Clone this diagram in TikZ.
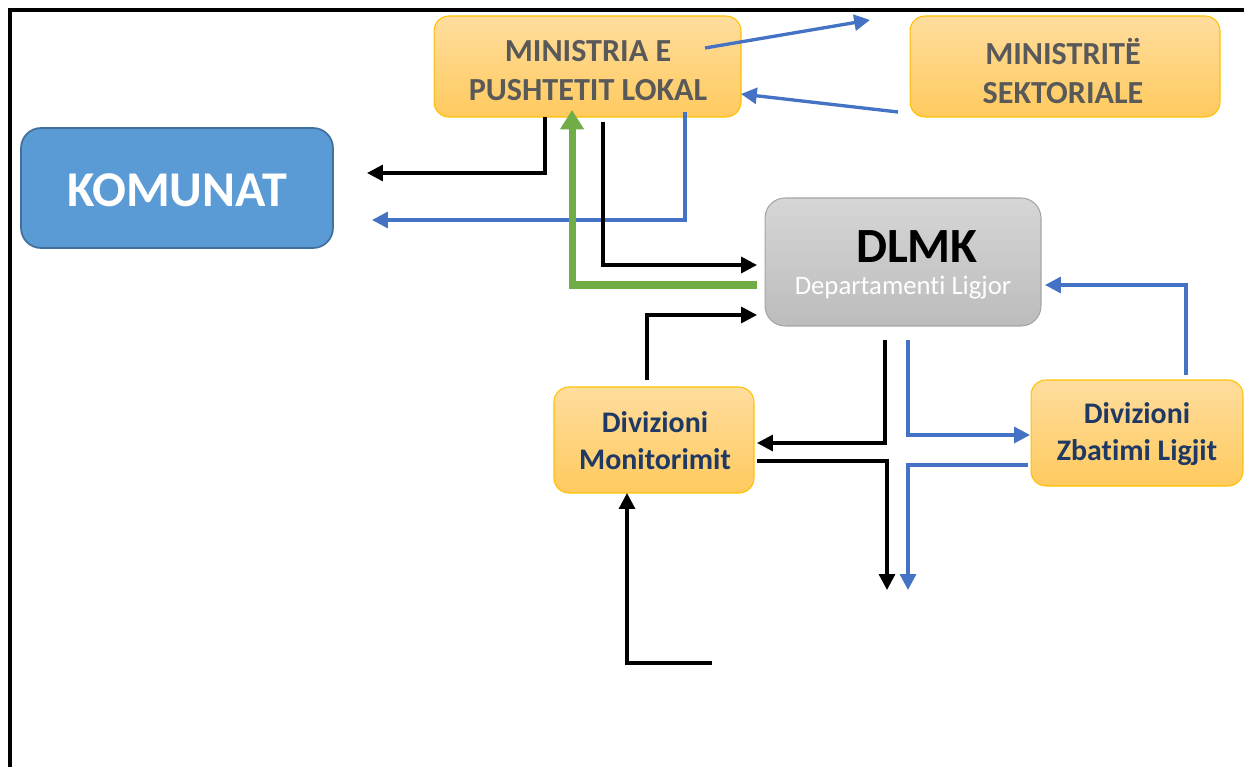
\documentclass[tikz,border=0pt]{standalone}
\usepackage{fontspec}
\setmainfont{Carlito}[Ligatures=NoCommon]
\usetikzlibrary{arrows.meta,calc}
\definecolor{kblue}{HTML}{5B9BD5}
\definecolor{kblueb}{HTML}{41719C}
\definecolor{lblue}{HTML}{4472C4}
\definecolor{lgreen}{HTML}{70AD47}
\definecolor{otop}{HTML}{FFDD9E}
\definecolor{obot}{HTML}{FFCA5E}
\definecolor{oborder}{HTML}{FFC000}
\definecolor{gtop}{HTML}{D6D6D6}
\definecolor{gbot}{HTML}{BCBCBC}
\definecolor{gborder}{HTML}{A5A5A5}
\definecolor{dgray}{HTML}{595959}
\definecolor{navy}{HTML}{1F3864}
\begin{document}
\begin{tikzpicture}[x=0.02cm,y=-0.02cm,
  orbox/.style={rounded corners=0.3cm, draw=oborder, line width=0.6pt, top color=otop, bottom color=obot, align=center, inner sep=0pt, outer sep=0pt},
  kombox/.style={rounded corners=0.4cm, draw=kblueb, line width=1pt, fill=kblue, text=white, align=center, inner sep=0pt, outer sep=0pt, font=\fontsize{28.5}{32}\selectfont\bfseries},
  grbox/.style={rounded corners=0.4cm, draw=gborder, line width=0.6pt, top color=gtop, bottom color=gbot, align=center, inner sep=0pt, outer sep=0pt},
  mtext/.style={text=dgray, align=center, font=\fontsize{18.3}{22.2}\selectfont\bfseries},
  dtext/.style={text=navy, align=center, font=\fontsize{17}{21}\selectfont\bfseries},
  blk/.style={draw=black, line width=1.9pt, -{Triangle[length=9pt,width=9pt]}},
  blu/.style={draw=lblue, line width=1.9pt, -{Triangle[length=9pt,width=9pt]}},
  grn/.style={draw=lgreen, line width=4pt, -{Triangle[length=11pt,width=13pt]}}
]
\useasboundingbox (0,0) rectangle (1244,767);
% frame
\draw[line width=2.4pt] (10,767) -- (10,10) -- (1244,10);

% nodes
\node[kombox, minimum width=6.24cm, minimum height=2.4cm] (kom) at (177,188) {};
\node[text=white, font=\fontsize{28.5}{32}\selectfont\bfseries] (komt) at (177,190) {KOMUNAT};
\node[orbox, minimum width=6.14cm, minimum height=2.02cm] (mpl) at (587.5,66.5) {};
\node[mtext] (mplt) at (588,71) {MINISTRIA E\\PUSHTETIT LOKAL};
\node[orbox, minimum width=6.2cm, minimum height=2.02cm] (msk) at (1065,66.5) {};
\node[mtext] (mskt) at (1063,71) {MINISTRITË\\SEKTORIALE};
\node[grbox, minimum width=5.52cm, minimum height=2.56cm] (dl) at (903,262) {};
\node[font=\fontsize{28}{32}\selectfont\bfseries] (dlt) at (917,247) {DLMK};
\node[font=\fontsize{15.2}{18}\selectfont, text=white] (dls) at (903,288) {Departamenti Ligjor};
\node[orbox, minimum width=4cm, minimum height=2.12cm] (mon) at (654,440) {};
\node[dtext] (mont) at (655,441) {Divizioni\\Monitorimit};
\node[orbox, minimum width=4.24cm, minimum height=2.12cm] (zb) at (1137,433) {};
\node[dtext] (zbt) at (1137,434) {Divizioni\\Zbatimi Ligjit};

% free-end coordinates
\coordinate (up1) at (870,20);
\coordinate (st1) at (705,48);
\coordinate (st2) at (898,112);
\coordinate (kom3) at (367,173);
\coordinate (kom4) at (372,220);
\coordinate (e11) at (887,590);
\coordinate (e12) at (908,590);
\coordinate (s13) at (712,663);

% connectors
\draw[blu] (st1) -- (up1);
\draw[blu] (st2) -- ($(mpl.south east)+(0,-23)$);
\draw[blk] ($(mpl.south west)+(111,0)$) |- (kom3);
\draw[blu] ($(mpl.south west)+(251,-5)$) |- (kom4);
\draw[blk] ($(mpl.south west)+(169,5)$) |- ($(dl.west)+(-8,3)$);
\draw[grn] ($(dl.west)+(-8,23)$) -| ($(mpl.south west)+(138,-7)$);
\draw[blk] ($(mon.north west)+(93,-7)$) |- ($(dl.west)+(-8,53)$);
\draw[blk] ($(dl.south west)+(120,14)$) |- ($(mon.east)+(3,3)$);
\draw[blu] ($(dl.south west)+(143,14)$) |- ($(zb.west)+(-1,2)$);
\draw[blu] ($(zb.north west)+(155,-5)$) |- ($(dl.east)+(4,23)$);
\draw[blk] ($(mon.east)+(3,21)$) -| (e11);
\draw[blu] ($(zb.west)+(-3,32)$) -| (e12);
\draw[blk] (s13) -| ($(mon.south)+(-27,0)$);
\end{tikzpicture}
\end{document}
